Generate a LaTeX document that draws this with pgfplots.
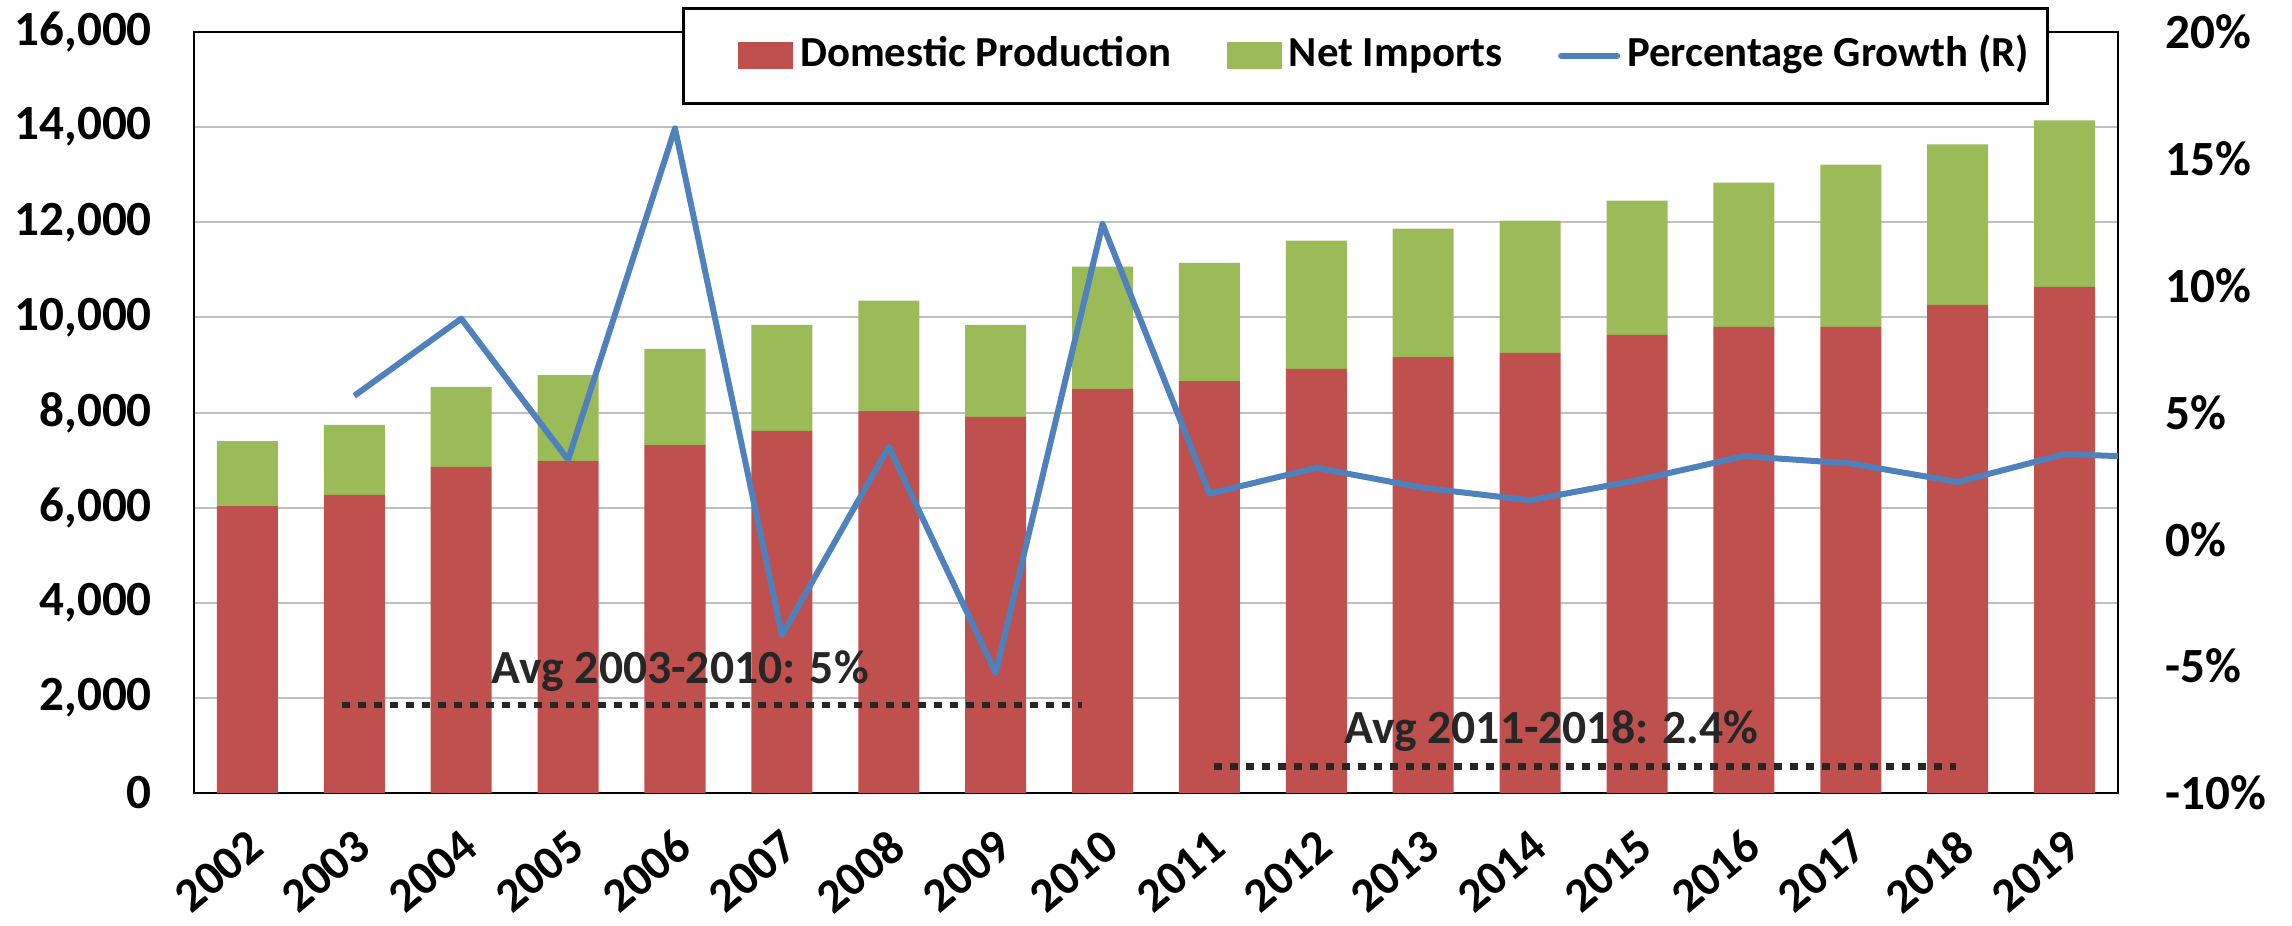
\documentclass[border=0pt]{standalone}
\usepackage{pgfplots}
\usepackage{pgfplotstable}
\pgfplotsset{compat=1.18}
\usepackage{fontspec}
\setmainfont{Carlito}
\definecolor{cRed}{RGB}{192,80,77}
\definecolor{cGreen}{RGB}{155,187,89}
\definecolor{cBlue}{RGB}{79,129,189}
\definecolor{cGrid}{RGB}{191,191,191}
\definecolor{cText}{RGB}{38,38,38}

\pgfplotstableread{
x dom imp
0 6030 1370
1 6267 1474
2 6855 1684
3 6984 1804
4 7314 2022
5 7612 2232
6 8031 2320
7 7910 1934
8 8498 2570
9 8662 2486
10 8915 2697
11 9167 2698
12 9252 2781
13 9631 2824
14 9800 3034
15 9800 3413
16 10263 3372
17 10643 3497
}\bars

\pgfplotstableread{
x g
1 5.66
2 8.70
3 3.14
4 16.2
5 -3.78
6 3.65
7 -5.27
8 12.43
9 1.80
10 2.82
11 2.03
12 1.54
13 2.33
14 3.28
15 2.99
16 2.26
17 3.36
18 3.20
}\growth

\begin{document}
\begin{tikzpicture}
\useasboundingbox (-48.5pt,-33pt) rectangle (524.5pt,198.25pt);
\begin{axis}[
  scale only axis, width=481pt, height=190.25pt,
  xmin=-0.5, xmax=17.5, ymin=0, ymax=16000,
  scaled y ticks=false,
  ybar stacked, bar width=15.25pt,
  axis line style={black, line width=0.7pt},
  xtick={0,...,17},
  xticklabels={2002,2003,2004,2005,2006,2007,2008,2009,2010,2011,2012,2013,2014,2015,2016,2017,2018,2019},
  ytick={0,2000,4000,6000,8000,10000,12000,14000,16000},
  yticklabels={0,{2,000},{4,000},{6,000},{8,000},{10,000},{12,000},{14,000},{16,000}},
  major tick length=0pt,
  ymajorgrids, grid style={cGrid, line width=0.5pt},
  tick label style={font=\fontsize{12.3}{14}\selectfont\bfseries, black},
  yticklabel style={xshift=-7pt},
  xticklabel style={font=\fontsize{12}{14}\selectfont\bfseries, inner sep=0pt, xshift=2.3pt, yshift=-11.6pt, rotate=40, anchor=east},
]
\addplot[fill=cRed, draw=none] table[x=x, y=dom]{\bars};
\addplot[fill=cGreen, draw=none] table[x=x, y=imp]{\bars};
\end{axis}

\begin{axis}[
  scale only axis, width=481pt, height=190.25pt,
  xmin=-0.5, xmax=17.5, ymin=-10, ymax=20,
  axis y line*=right, hide x axis,
  axis line style={black, line width=0.7pt},
  ytick={-10,-5,0,5,10,15,20},
  yticklabels={-10\%,-5\%,0\%,5\%,10\%,15\%,20\%},
  major tick length=0pt,
  tick label style={font=\fontsize{12.3}{14}\selectfont\bfseries, black},
  yticklabel style={anchor=west, xshift=8.3pt},
  legend columns=3,
  legend style={at={(0.2536,1.0329)}, anchor=north west, draw=black, line width=0.7pt, fill=white,
    inner xsep=4.5pt, inner ysep=7.1pt,
    font=\fontsize{10.7}{12}\selectfont\bfseries,
    nodes={inner sep=0pt, text height=7.4pt, text depth=2.1pt},
    /tikz/every odd column/.append style={column sep=1.75pt},
    /tikz/every even column/.append style={column sep=14pt}},
  legend cell align=left,
]
\addlegendimage{legend image code/.code={\path (0pt,0pt); \fill[cRed] (9.25pt,-3pt) rectangle (22.25pt,3pt);}}
\addlegendentry{Domestic Production}
\addlegendimage{legend image code/.code={\fill[cGreen] (0pt,-3pt) rectangle (13pt,3pt);}}
\addlegendentry{Net Imports}
\addplot[cBlue, line width=1.5pt, line join=round,
  legend image code/.code={\draw[cBlue, line width=1.5pt, line cap=round] (0pt,0pt) -- (14pt,0pt);}]
  table[x=x, y=g]{\growth};
\addlegendentry{Percentage Growth (R)}
\addplot[cText, line width=1.7pt, dash pattern=on 2pt off 2pt, forget plot] coordinates {(0.88,-6.53) (7.81,-6.53)};
\addplot[cText, line width=1.7pt, dash pattern=on 2pt off 2pt, forget plot] coordinates {(9.04,-8.96) (15.98,-8.96)};
\node[anchor=base, font=\fontsize{11.9}{13}\selectfont\bfseries, text=cText, inner sep=0pt] at (axis cs:4.05,-5.69) {Avg 2003-2010: 5\%};
\node[anchor=base, font=\fontsize{11.9}{13}\selectfont\bfseries, text=cText, inner sep=0pt] at (axis cs:12.2,-8.03) {Avg 2011-2018: 2.4\%};
\end{axis}
\end{tikzpicture}
\end{document}
